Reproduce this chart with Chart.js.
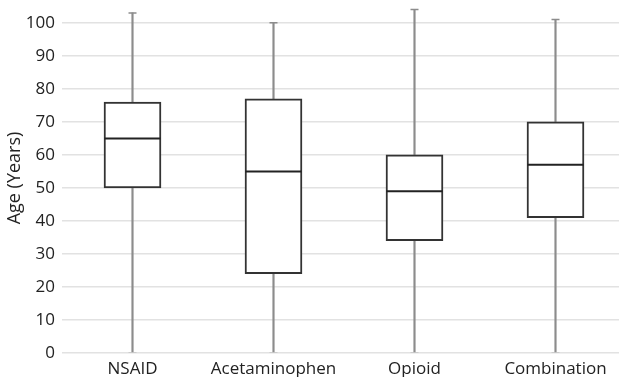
<!DOCTYPE html>
<html>
<head>
<meta charset="utf-8">
<script src="https://cdn.jsdelivr.net/npm/chart.js@4"></script>
<style>
  html, body { margin: 0; padding: 0; background: #fff; overflow: hidden; }
  canvas { display: block; }
</style>
</head>
<body>
<canvas id="chart" width="626" height="377"></canvas>
<script>
const categories = ["NSAID", "Acetaminophen", "Opioid", "Combination"];
const minValues = [0, 0, 0, 0];
const q1Values = [50, 24, 34, 41];
const medianValues = [65, 55, 49, 57];
const q3Values = [76, 77, 60, 70];
const maxValues = [103, 100, 104, 101];
const yTicks = [0, 10, 20, 30, 40, 50, 60, 70, 80, 90, 100];

const FONT = "'Open Sans', 'Noto Sans', sans-serif";
const whiskerColor = "#8c8c8c";
const boxColor = "#333333";

const whiskers = categories.map((c, i) => [minValues[i], maxValues[i]]);
const boxes = categories.map((c, i) => [q1Values[i], q3Values[i]]);

function capDataset(values, color, order) {
  return {
    type: "line",
    data: values,
    showLine: false,
    pointStyle: "line",
    pointRadius: 4,
    pointHoverRadius: 4,
    pointBorderWidth: 1.5,
    pointBorderColor: color,
    order,
  };
}

new Chart(document.getElementById("chart"), {
  type: "bar",
  data: {
    labels: categories,
    datasets: [
      {
        data: whiskers,
        backgroundColor: whiskerColor,
        barThickness: 1.5,
        grouped: false,
        order: 5,
      },
      {
        data: boxes,
        backgroundColor: "#ffffff",
        borderColor: boxColor,
        borderWidth: 2,
        borderSkipped: false,
        barThickness: 57,
        grouped: false,
        order: 4,
      },
      capDataset(maxValues, whiskerColor, 3),
      capDataset(minValues, "#c4c4c4", 2),
      {
        type: "line",
        data: medianValues,
        showLine: false,
        pointStyle: "line",
        pointRadius: 28,
        pointHoverRadius: 28,
        pointBorderWidth: 2,
        pointBorderColor: "#222222",
        order: 0,
      },
    ],
  },
  options: {
    responsive: false,
    animation: false,
    devicePixelRatio: 1,
    layout: { autoPadding: false, padding: { top: 3, right: 0, left: 0, bottom: 0 } },
    plugins: {
      legend: { display: false },
      tooltip: { enabled: false },
    },
    scales: {
      x: {
        grid: { display: false, drawTicks: false },
        border: { display: false },
        ticks: {
          color: "#222",
          font: { family: FONT, size: 17 },
          padding: 6,
        },
        afterFit: (scale) => {
          scale.height = 24;
          scale.paddingLeft = 0;
          scale.paddingRight = 0;
        },
      },
      y: {
        min: 0,
        max: 106,
        afterBuildTicks: (scale) => {
          scale.ticks = yTicks.map((v) => ({ value: v }));
        },
        grid: { color: "#e2e2e2", lineWidth: 1.5, drawTicks: false },
        border: { display: false },
        ticks: {
          color: "#222",
          font: { family: FONT, size: 17 },
          padding: 7,
        },
        title: {
          display: true,
          text: "Age (Years)",
          color: "#222",
          font: { family: FONT, size: 18 },
          padding: { top: 4, bottom: 2 },
        },
        afterFit: (scale) => {
          scale.width = 62;
          scale.paddingTop = 0;
          scale.paddingBottom = 0;
        },
      },
    },
  },
});
</script>
</body>
</html>
